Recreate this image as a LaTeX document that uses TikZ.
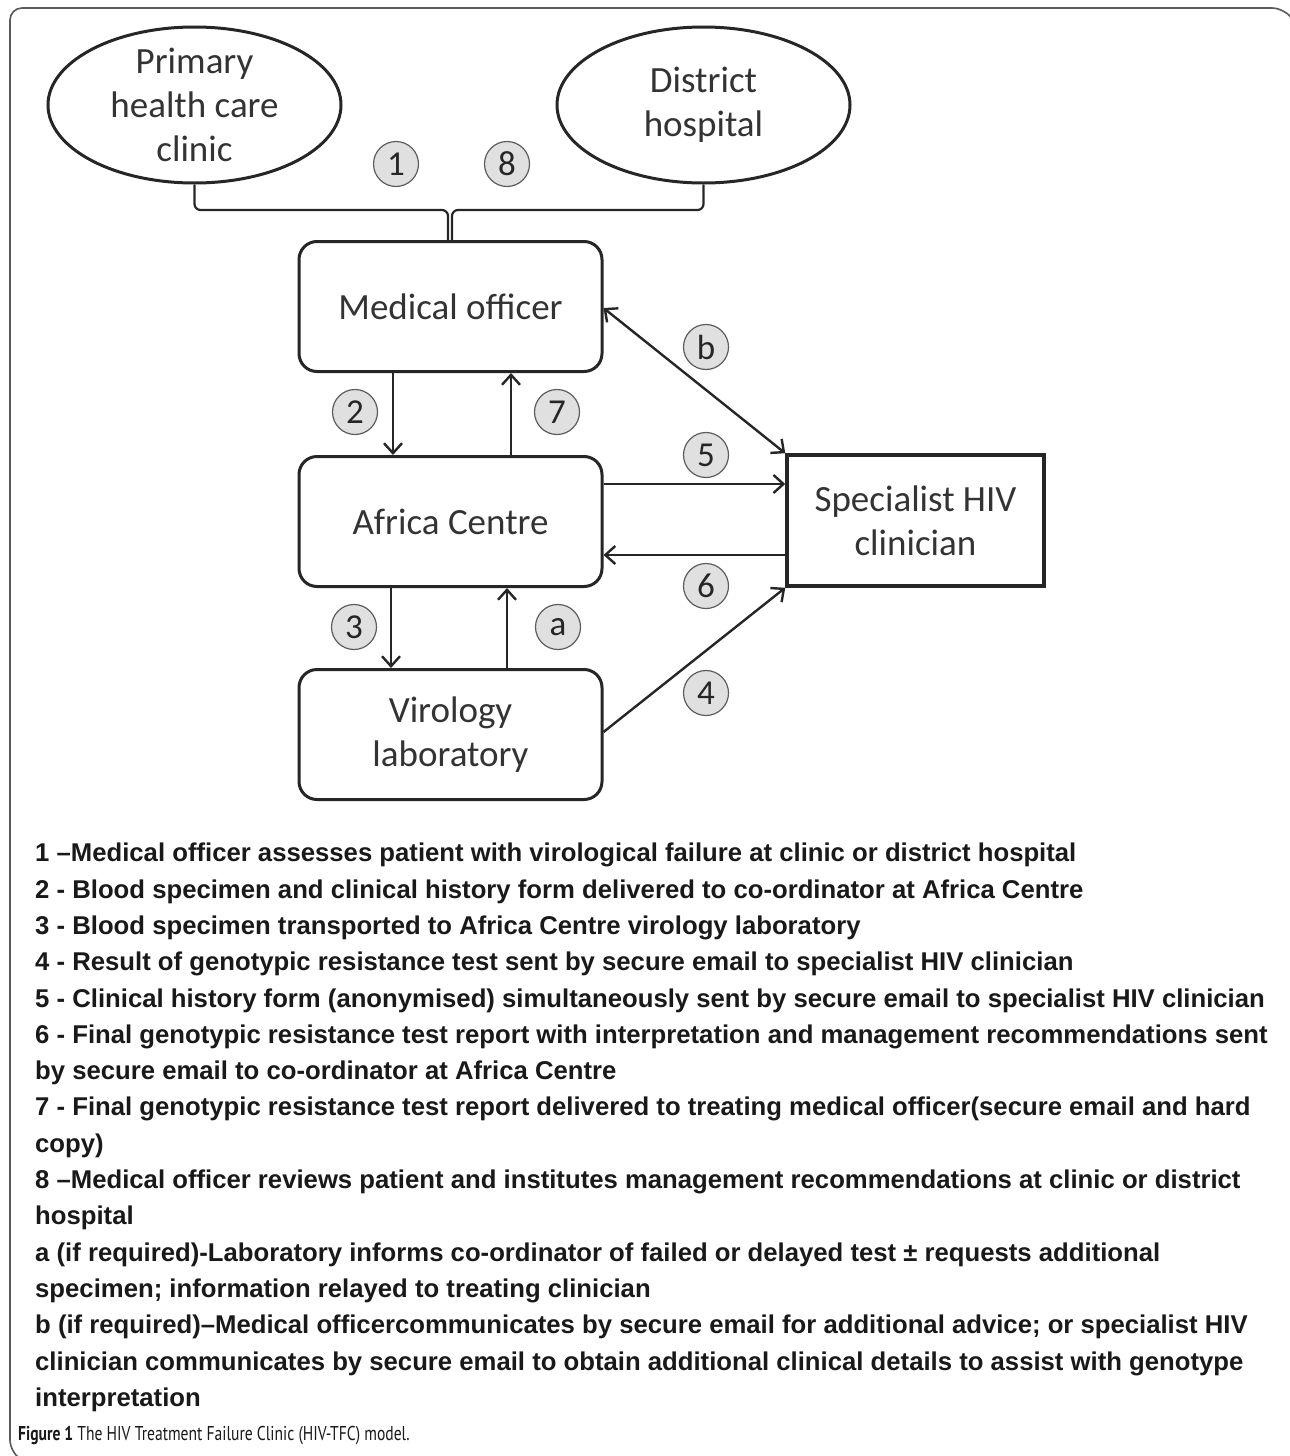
\documentclass[tikz,border=0pt]{standalone}
\usepackage{fontspec}
\setmainfont{Liberation Sans}
\newfontfamily\diagfont{Carlito}
\newfontfamily\capfont{PT Sans}[FakeStretch=0.78]
\usetikzlibrary{shapes.geometric,arrows.meta}
\definecolor{linec}{HTML}{262626}
\definecolor{textc}{HTML}{333333}
\definecolor{circfill}{HTML}{E0E0E0}
\definecolor{framec}{HTML}{5A5A5A}
\tikzset{
  place/.style={ellipse, draw=linec, line width=3pt, minimum width=293pt, minimum height=156pt, inner sep=0pt},
  placetext/.style={align=center, text=textc, font=\diagfont\fontsize{37}{44}\selectfont},
  station/.style={rectangle, rounded corners=18pt, draw=linec, line width=3pt, minimum width=303pt, minimum height=130pt, align=center, text=textc, font=\diagfont\fontsize{37}{44}\selectfont},
  expert/.style={rectangle, draw=linec, line width=3.5pt, minimum width=257pt, minimum height=131pt, align=center, text=textc, font=\diagfont\fontsize{37}{44}\selectfont},
  num/.style={circle, draw=linec!75, line width=1.2pt, fill=circfill, minimum size=45pt, inner sep=0pt, text=linec, font=\diagfont\fontsize{35}{35}\selectfont},
  arr/.style={draw=linec, line width=2.4pt, -{Straight Barb[length=10pt,width=18pt]}},
  biarr/.style={draw=linec, line width=2.4pt, {Straight Barb[length=10pt,width=18pt]}-{Straight Barb[length=10pt,width=18pt]}}
}
\begin{document}
\begin{tikzpicture}[x=1pt,y=-1pt]
    \useasboundingbox (0,0) rectangle (1290,1456);

    % Frame
    \draw[framec, line width=1.6pt, rounded corners=12pt]
        (1290,16) -- (1284,8) -- (10,8) -- (10,1452) -- (16,1456);

    % Places
    \node[place, label={[placetext]center:Primary\\health care\\clinic}] (primary) at (194.5,105) {};
    \node[place, label={[placetext]center:District\\hospital}] (district) at (703.5,105) {};

    % Stations
    \node[station] (medical) at (450.5,306.5) {Medical officer};
    \node[station] (africa) at (450.5,521.5) {Africa Centre};
    \node[station] (virology) at (450.5,734.5) {Virology\\laboratory};
    \node[expert] (specialist) at (915.5,520.5) {Specialist HIV\\clinician};

    % Bracket
    \draw[linec, line width=2.2pt, rounded corners=6pt]
        (primary.south) -- (primary.south |- 0,210) -- (448,210) -- (medical.north -| 448,0);
    \draw[linec, line width=2.2pt, rounded corners=6pt]
        (district.south) -- (district.south |- 0,210) -- (452,210) -- (medical.north -| 452,0);

    % Arrows
    \draw[arr] (medical.south -| 393,0) -- (africa.north -| 393,0);
    \draw[arr] (africa.north -| 511,0) -- (medical.south -| 511,0);
    \draw[arr] (africa.south -| 391,0) -- (virology.north -| 391,0);
    \draw[arr] (virology.north -| 507,0) -- (africa.south -| 507,0);
    \draw[arr] (africa.east |- 0,484) -- (specialist.west |- 0,484);
    \draw[arr] (specialist.west |- 0,555) -- (africa.east |- 0,555);
    \draw[biarr] (medical.east |- 0,308) -- (specialist.north west);
    \draw[arr] (virology.east |- 0,732) -- (specialist.south west);

    % Step numbers
    \node[num] (n1) at (396,164) {1};
    \node[num] (n8) at (507,164) {8};
    \node[num] (n2) at (355,412) {2};
    \node[num] (n7) at (557,412) {7};
    \node[num] (n3) at (354,627) {3};
    \node[num] (na) at (558,627) {a};
    \node[num] (nb) at (706,347) {b};
    \node[num] (n5) at (706,455) {5};
    \node[num] (n6) at (706,586) {6};
    \node[num] (n4) at (706,693) {4};

    % Legend
    \node[anchor=north west, inner sep=0pt, align=left, text=black!90,
          font=\fontsize{25.7}{36.3}\bfseries\selectfont] (legend) at (35,843) {%
        1 --Medical officer assesses patient with virological failure at clinic or district hospital\\
        2 - Blood specimen and clinical history form delivered to co-ordinator at Africa Centre\\
        3 - Blood specimen transported to Africa Centre virology laboratory\\
        4 - Result of genotypic resistance test sent by secure email to specialist HIV clinician\\
        5 - Clinical history form (anonymised) simultaneously sent by secure email to specialist HIV clinician\\
        6 - Final genotypic resistance test report with interpretation and management recommendations sent\\
        by secure email to co-ordinator at Africa Centre\\
        7 - Final genotypic resistance test report delivered to treating medical officer(secure email and hard\\
        copy)\\
        8 --Medical officer reviews patient and institutes management recommendations at clinic or district\\
        hospital\\
        a (if required)-Laboratory informs co-ordinator of failed or delayed test ± requests additional\\
        specimen; information relayed to treating clinician\\
        b (if required)--Medical officercommunicates by secure email for additional advice; or specialist HIV\\
        clinician communicates by secure email to obtain additional clinical details to assist with genotype\\
        interpretation};

    % Caption
    \node[anchor=base west, inner sep=0pt, text=black!90, font=\capfont\fontsize{20}{20}\selectfont]
        (caption) at (18,1440) {\textbf{Figure 1} The HIV Treatment Failure Clinic (HIV-TFC) model.};
\end{tikzpicture}
\end{document}
